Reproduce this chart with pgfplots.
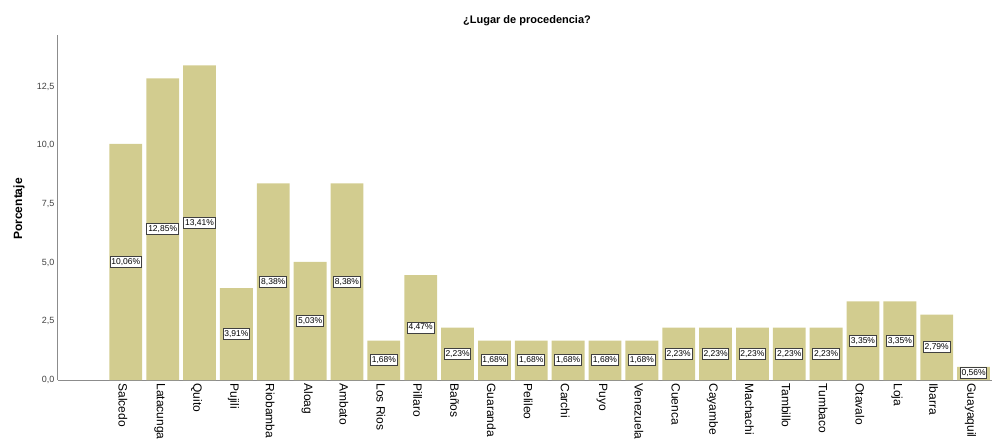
\documentclass[border=0pt]{standalone}
\usepackage{pgfplots}
\pgfplotsset{compat=1.18}
\usepackage{pgfplotstable}
\usepackage{fontspec}
\setmainfont{Liberation Sans}
\definecolor{barc}{RGB}{210,204,143}
\definecolor{axc}{RGB}{140,140,140}
\pgfplotstableread{
x y
0 10.06
1 12.85
2 13.41
3 3.91
4 8.38
5 5.03
6 8.38
7 1.68
8 4.47
9 2.23
10 1.68
11 1.68
12 1.68
13 1.68
14 1.68
15 2.23
16 2.23
17 2.23
18 2.23
19 2.23
20 3.35
21 3.35
22 2.79
23 0.56
}\datatab
\begin{document}
\begin{tikzpicture}
\path[use as bounding box] (0,0) rectangle (992pt,442pt);
\node[font=\bfseries\fontsize{11}{13}\selectfont] at (527pt,421pt) {¿Lugar de procedencia?};
\node[font=\bfseries\fontsize{12}{14}\selectfont, rotate=90] at (19pt,233pt) {Porcentaje};
\begin{axis}[
  at={(58pt,62pt)}, anchor=south west,
  scale only axis, width=934pt, height=345pt,
  xmin=-1.84, xmax=23.5, ymin=0, ymax=14.7,
  axis lines*=left,
  axis line style={axc, line width=1pt},
  x axis line style={-}, y axis line style={-},
  clip=false,
  xtick=data,
  xticklabels={Salcedo,Latacunga,Quito,Pujili,Riobamba,Aloag,Ambato,Los Rios,Pillaro,Baños,Guaranda,Pelileo,Carchi,Puyo,Venezuela,Cuenca,Cayambe,Machachi,Tambillo,Tumbaco,Otavalo,Loja,Ibarra,Guayaquil},
  xticklabel style={rotate=-90, anchor=west, font=\fontsize{12}{14}\selectfont, yshift=-3pt},
  ytick={0,2.5,5,7.5,10,12.5},
  yticklabel style={font=\fontsize{9}{11}\selectfont, text=black!75, /pgf/number format/.cd, fixed, fixed zerofill, precision=1, use comma, assume math mode=true},
  major tick length=0pt,
  /pgf/number format/assume math mode=true,
]
\addplot[ybar, bar width=0.89, fill=barc, draw=none] table[x=x, y=y] {\datatab};
\addplot[only marks, mark=none,
  nodes near coords={\pgfmathprintnumber[fixed,fixed zerofill,precision=2,use comma,assume math mode=true]{\pgfplotspointmeta}\%},
  point meta=explicit,
  every node near coord/.append style={anchor=center, draw=black!75, line width=1pt, fill=white, inner xsep=1.3pt, inner ysep=2pt, font=\fontsize{8.5}{9}\selectfont, text=black},
] table[x=x, y expr=\thisrow{y}/2, meta=y] {\datatab};
\end{axis}
\end{tikzpicture}
\end{document}
